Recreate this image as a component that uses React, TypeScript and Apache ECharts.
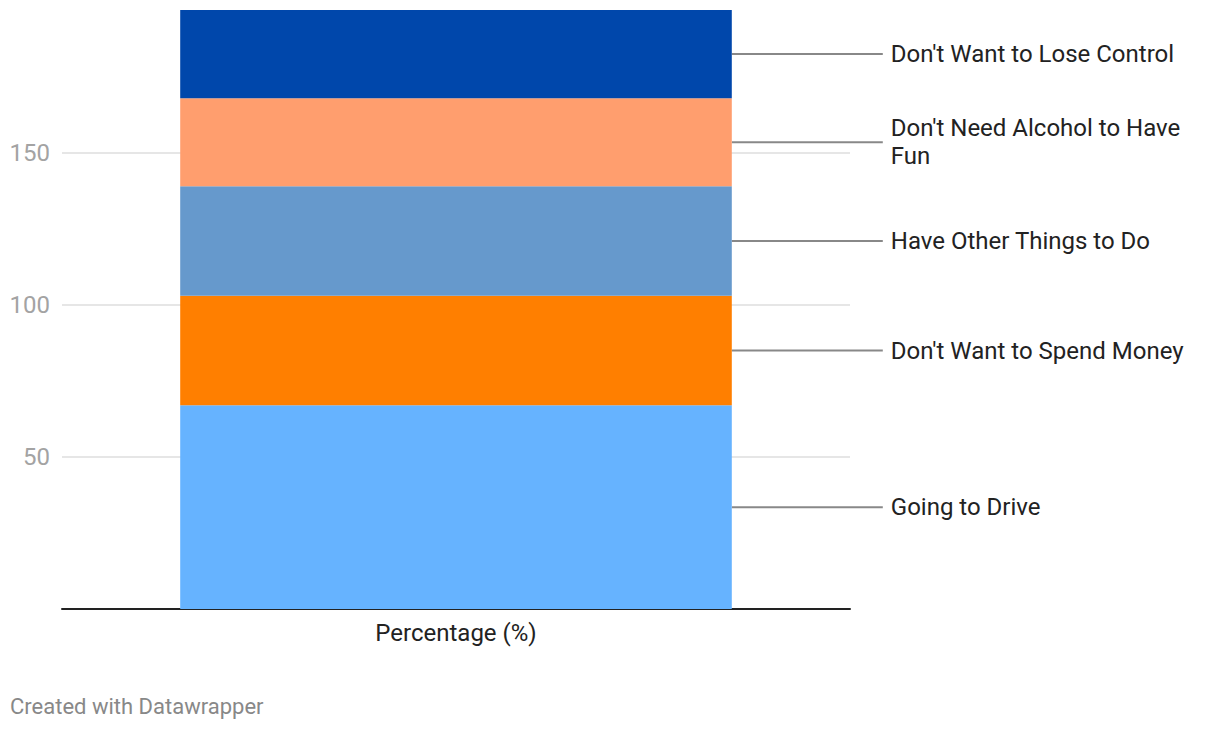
import React, { useEffect, useRef } from "react";
import * as echarts from "echarts";

const categories = ["Percentage (%)"];
const seriesNames = [
  "Going to Drive",
  "Don't Want to Spend Money",
  "Have Other Things to Do",
  "Don't Need Alcohol to Have Fun",
  "Don't Want to Lose Control",
];
const seriesLabels = [
  "Going to Drive",
  "Don't Want to Spend Money",
  "Have Other Things to Do",
  "Don't Need Alcohol to Have\nFun",
  "Don't Want to Lose Control",
];
const seriesValues = [67, 36, 36, 29, 29];
const colors = ["#66b3ff", "#ff7f00", "#6699cc", "#ff9e6e", "#0047ab"];
const yTicks = [50, 100, 150];

export default function App() {
  const ref = useRef<HTMLDivElement>(null);
  useEffect(() => {
    document.body.style.margin = "0";
    const chart = echarts.init(ref.current!, null, { renderer: "svg" });
    const total = seriesValues.reduce((a, b) => a + b, 0);
    const option: any = {
      animation: false,
      textStyle: { fontFamily: "Roboto" },
      grid: { left: 62, right: 370, top: 10, bottom: 121 },
      xAxis: {
        type: "category",
        data: categories,
        axisLine: { lineStyle: { color: "#222", width: 2 } },
        axisTick: { show: false },
        axisLabel: { fontSize: 24, color: "#222", margin: 12, fontFamily: "Roboto" },
      },
      yAxis: {
        type: "value",
        min: 0,
        max: total,
        interval: 50,
        axisLine: { show: false },
        axisTick: { show: false },
        splitLine: { showMaxLine: false, lineStyle: { color: "#e6e6e6", width: 2 } },
        axisLabel: {
          fontSize: 24,
          color: "#a3a3a3",
          margin: 12,
          fontFamily: "Roboto",
          formatter: (v: number) => (yTicks.includes(v) ? String(v) : ""),
        },
      },
      series: seriesNames.map((name, i) => ({
        name,
        type: "bar",
        stack: "total",
        barWidth: "70%",
        data: [seriesValues[i]],
        itemStyle: { color: colors[i] },
      })),
    };
    chart.setOption(option);

    const graphics: any[] = [];
    let cum = 0;
    seriesValues.forEach((v, i) => {
      const layout: any = chart
        .getModel()
        .getSeriesByIndex(i)
        .getData()
        .getItemLayout(0);
      const right = layout.x + layout.width;
      const yMid = chart.convertToPixel({ yAxisIndex: 0 }, cum + v / 2) as number;
      cum += v;
      graphics.push({
        type: "line",
        shape: { x1: right, y1: yMid, x2: right + 151, y2: yMid },
        style: { stroke: "#888", lineWidth: 2 },
      });
      graphics.push({
        type: "text",
        x: right + 159,
        y: yMid,
        style: {
          text: seriesLabels[i],
          fontSize: 24,
          lineHeight: 28,
          fill: "#222",
          fontFamily: "Roboto",
          verticalAlign: "middle",
          align: "left",
        },
      });
    });
    graphics.push({
      type: "text",
      x: 10,
      y: 706,
      style: {
        text: "Created with Datawrapper",
        fontSize: 22,
        fill: "#888",
        fontFamily: "Roboto",
        verticalAlign: "middle",
      },
    });
    chart.setOption({ graphic: graphics });
    return () => chart.dispose();
  }, []);
  return <div ref={ref} style={{ width: 1220, height: 730 }} />;
}
